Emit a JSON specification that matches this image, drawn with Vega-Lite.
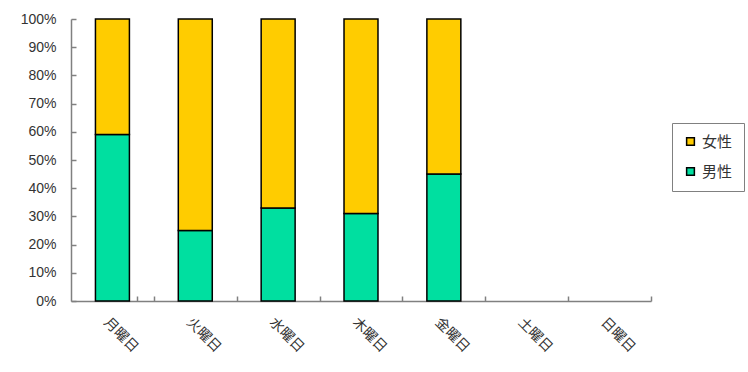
{
  "$schema": "https://vega.github.io/schema/vega-lite/v6.json",
  "width": 580,
  "height": 282,
  "autosize": {"type": "none"},
  "padding": {"left": 71, "top": 19, "right": 97, "bottom": 71},
  "background": "white",
  "config": {"view": {"stroke": null}, "font": "Noto Sans CJK JP"},
  "data": {
    "values": [
      {"day": "月曜日", "sex": "男性", "pct": 59, "ord": 1},
      {"day": "月曜日", "sex": "女性", "pct": 41, "ord": 2},
      {"day": "火曜日", "sex": "男性", "pct": 25, "ord": 1},
      {"day": "火曜日", "sex": "女性", "pct": 75, "ord": 2},
      {"day": "水曜日", "sex": "男性", "pct": 33, "ord": 1},
      {"day": "水曜日", "sex": "女性", "pct": 67, "ord": 2},
      {"day": "木曜日", "sex": "男性", "pct": 31, "ord": 1},
      {"day": "木曜日", "sex": "女性", "pct": 69, "ord": 2},
      {"day": "金曜日", "sex": "男性", "pct": 45, "ord": 1},
      {"day": "金曜日", "sex": "女性", "pct": 55, "ord": 2},
      {"day": "土曜日", "sex": "男性", "pct": null, "ord": 1},
      {"day": "日曜日", "sex": "男性", "pct": null, "ord": 1}
    ]
  },
  "mark": {"type": "bar", "stroke": "black", "strokeWidth": 1.5},
  "encoding": {
    "x": {
      "field": "day",
      "type": "nominal",
      "sort": ["月曜日", "火曜日", "水曜日", "木曜日", "金曜日", "土曜日", "日曜日"],
      "scale": {"paddingInner": 0.59, "paddingOuter": 0.295},
      "axis": {
        "title": null,
        "labelAngle": 45,
        "labelAlign": "left",
        "labelBaseline": "middle",
        "labelFontSize": 14,
        "labelColor": "#333",
        "labelPadding": 24,
        "labelOffset": -48.4,
        "tickOffset": 41.43,
        "tickExtra": true,
        "tickSize": -5,
        "tickColor": "#808080",
        "domainColor": "#808080",
        "domainWidth": 1.5,
        "tickWidth": 1.5
      }
    },
    "y": {
      "field": "pct",
      "type": "quantitative",
      "stack": "normalize",
      "scale": {"domain": [0, 1]},
      "axis": {
        "title": null,
        "format": "%",
        "values": [0, 0.1, 0.2, 0.3, 0.4, 0.5, 0.6, 0.7, 0.8, 0.9, 1],
        "grid": false,
        "tickSize": -5,
        "tickColor": "#808080",
        "domainColor": "#808080",
        "domainWidth": 1.5,
        "tickWidth": 1.5,
        "labelFontSize": 14,
        "labelColor": "#333",
        "labelFont": "Liberation Sans",
        "labelPadding": 20
      }
    },
    "order": {"field": "ord", "type": "quantitative"},
    "color": {
      "field": "sex",
      "type": "nominal",
      "scale": {"domain": ["女性", "男性"], "range": ["#FFCC00", "#00DFA0"]},
      "legend": {
        "title": null,
        "orient": "none",
        "legendX": 601,
        "legendY": 104,
        "symbolType": "square",
        "symbolSize": 60,
        "symbolStrokeColor": "black",
        "symbolStrokeWidth": 1.5,
        "labelFontSize": 15,
        "labelColor": "#333",
        "rowPadding": 14,
        "padding": 11,
        "strokeColor": "#808080",
        "fillColor": "white"
      }
    }
  }
}
